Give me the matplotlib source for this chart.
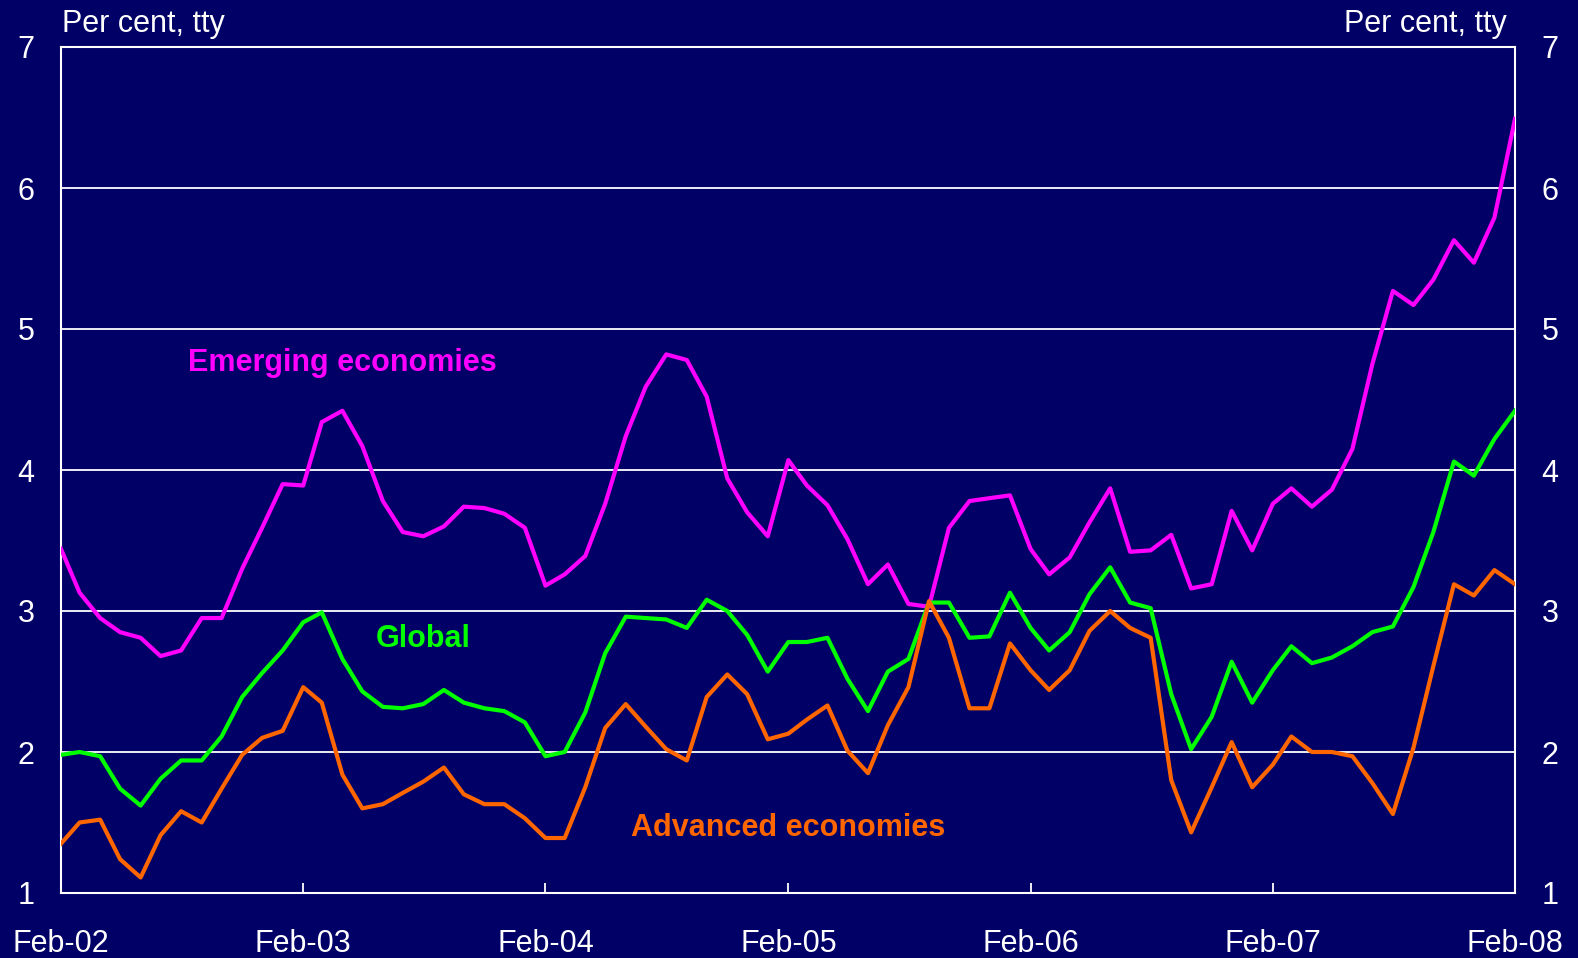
import pandas as pd
import matplotlib
matplotlib.use("Agg")
from matplotlib import pyplot as plt
import matplotlib.dates as mdates

plt.rcParams['font.family'] = ['Liberation Sans', 'DejaVu Sans']

# monthly, Feb-2002 .. Feb-2008
months = pd.date_range("2002-02-01", periods=73, freq="MS")

emerging = [3.44, 3.13, 2.95, 2.85, 2.81, 2.68, 2.72, 2.95, 2.95, 3.30,
            3.59, 3.90, 3.89, 4.34, 4.42, 4.17, 3.78, 3.56, 3.53, 3.60,
            3.74, 3.73, 3.69, 3.59, 3.18, 3.26, 3.39, 3.76, 4.24, 4.59,
            4.82, 4.78, 4.52, 3.94, 3.70, 3.53, 4.07, 3.89, 3.75, 3.51,
            3.19, 3.33, 3.05, 3.03, 3.59, 3.78, 3.80, 3.82, 3.44, 3.26,
            3.38, 3.63, 3.87, 3.42, 3.43, 3.54, 3.16, 3.19, 3.71, 3.43,
            3.76, 3.87, 3.74, 3.86, 4.15, 4.75, 5.27, 5.17, 5.35, 5.63,
            5.47, 5.79, 6.49]

glob = [1.98, 2.00, 1.97, 1.74, 1.62, 1.81, 1.94, 1.94, 2.11, 2.39,
        2.56, 2.72, 2.92, 2.99, 2.66, 2.43, 2.32, 2.31, 2.34, 2.44,
        2.35, 2.31, 2.29, 2.21, 1.97, 2.00, 2.28, 2.70, 2.96, 2.95,
        2.94, 2.88, 3.08, 3.00, 2.83, 2.57, 2.78, 2.78, 2.81, 2.52,
        2.29, 2.57, 2.66, 3.06, 3.06, 2.81, 2.82, 3.13, 2.88, 2.72,
        2.85, 3.12, 3.31, 3.06, 3.02, 2.41, 2.02, 2.25, 2.64, 2.35,
        2.58, 2.75, 2.63, 2.67, 2.75, 2.85, 2.89, 3.17, 3.56, 4.06,
        3.96, 4.22, 4.42]

advanced = [1.35, 1.50, 1.52, 1.24, 1.11, 1.41, 1.58, 1.50, 1.74, 1.98,
            2.10, 2.15, 2.46, 2.35, 1.84, 1.60, 1.63, 1.71, 1.79, 1.89,
            1.70, 1.63, 1.63, 1.53, 1.39, 1.39, 1.75, 2.17, 2.34, 2.18,
            2.02, 1.94, 2.39, 2.55, 2.41, 2.09, 2.13, 2.23, 2.33, 2.01,
            1.85, 2.19, 2.46, 3.07, 2.81, 2.31, 2.31, 2.77, 2.58, 2.44,
            2.58, 2.86, 3.00, 2.88, 2.81, 1.80, 1.43, 1.75, 2.07, 1.75,
            1.91, 2.11, 2.00, 2.00, 1.97, 1.78, 1.56, 2.03, 2.61, 3.19,
            3.11, 3.29, 3.19]

bg = "#000066"
fs = 22

fig = plt.figure(figsize=(15.78, 9.58), dpi=100, facecolor=bg)
ax = fig.add_axes([61 / 1578, 65 / 958, 1454 / 1578, 846 / 958])
ax.set_facecolor(bg)

ax.plot(months, emerging, color="#ff00ff", lw=3, zorder=3)
ax.plot(months, glob, color="#00ff00", lw=3, zorder=3)
ax.plot(months, advanced, color="#ff6600", lw=3, zorder=3)

ax.set_xlim(months[0], months[-1])
ax.set_ylim(1, 7)
ax.set_yticks(range(1, 8))
ax.xaxis.set_major_locator(mdates.MonthLocator(bymonth=2))
ax.xaxis.set_major_formatter(mdates.DateFormatter("%b-%y"))

for y in range(2, 7):
    ax.axhline(y, color="white", lw=1.3, zorder=1)

for s in ax.spines.values():
    s.set_color("white")
    s.set_linewidth(1.5)

ax.tick_params(axis="x", direction="in", length=7, width=1.3, color="white",
               labelcolor="white", labelsize=fs, pad=26)
ax.tick_params(axis="y", direction="in", length=0, labelcolor="white",
               labelsize=fs, pad=19, right=True, labelright=True)

ax.text(0.001, 1.009, "Per cent, tty", transform=ax.transAxes, color="white",
        fontsize=fs, ha="left", va="bottom")
ax.text(0.994, 1.009, "Per cent, tty", transform=ax.transAxes, color="white",
        fontsize=fs, ha="right", va="bottom")

ax.text(months[14], 4.76, "Emerging economies", color="#ff00ff", fontsize=fs,
        fontweight="bold", ha="center", va="center")
ax.text(months[18], 2.80, "Global", color="#00ff00", fontsize=fs,
        fontweight="bold", ha="center", va="center")
ax.text(months[36], 1.46, "Advanced economies", color="#ff6600", fontsize=fs,
        fontweight="bold", ha="center", va="center")

fig.savefig("out.png", dpi=100, facecolor=bg)
